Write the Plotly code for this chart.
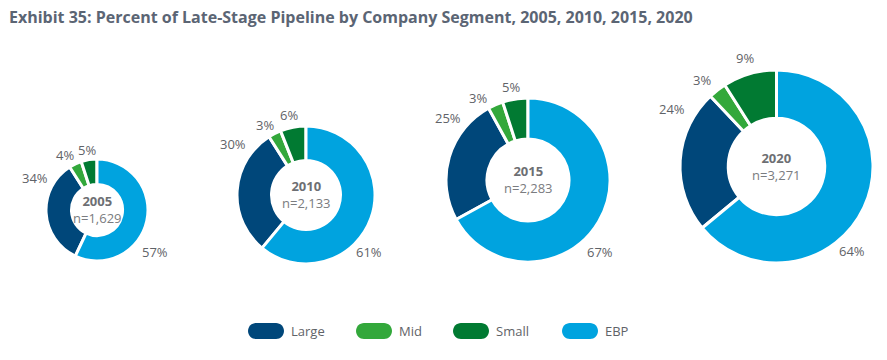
import plotly.graph_objects as go

W, H = 887, 360

# ---------------- data ----------------
segments = ["Large", "Mid", "Small", "EBP"]
years = ["2005", "2010", "2015", "2020"]
counts = ["1,629", "2,133", "2,283", "3,271"]
large = [34, 30, 25, 24]
mid = [4, 3, 3, 3]
small = [5, 6, 5, 9]
ebp = [57, 61, 67, 64]

# ---------------- style / layout ----------------
colors = ["#00477a", "#33a83b", "#017a32", "#00a3df"]
centers = [(97, 210), (306, 195), (528, 180), (776.5, 166.5)]   # px
radii = [51, 69, 82, 96.5]                                        # px
hole = 0.5
# percent label positions (px) for Large, Mid, Small, EBP of each donut
label_xy = [
    [(35, 178), (65, 155), (87, 150), (155, 252)],
    [(233, 144), (265, 125), (289, 115), (369, 252)],
    [(448, 118), (478, 98), (511, 87), (600, 252)],
    [(672, 109), (702, 80), (745, 58), (852, 251)],
]
legend_pill_x = [248, 356, 453, 562]   # px, left edge of each legend pill
legend_y = 331
pill_w, pill_h = 36, 16

TXT = "#5f6368"
FONT = "Open Sans"


def px(x):
    return x / W


def py(y):
    return 1 - y / H


fig = go.Figure()
annotations = []
shapes = []

for i, yr in enumerate(years):
    vals = [large[i], mid[i], small[i], ebp[i]]
    cx, cy = centers[i]
    r = radii[i]
    rot = ebp[i] * 3.6
    if rot > 180:
        rot -= 360
    fig.add_trace(go.Pie(
        labels=segments, values=vals, sort=False, direction="clockwise",
        rotation=rot, hole=hole,
        marker=dict(colors=colors, line=dict(color="white", width=3)),
        textinfo="none",
        domain=dict(x=[px(cx - r), px(cx + r)], y=[py(cy + r), py(cy - r)]),
        showlegend=False, hoverinfo="label+percent",
        name=yr,
    ))
    annotations.append(dict(
        x=px(cx), y=py(cy - 0.5), xref="paper", yref="paper", showarrow=False,
        text=f"<b>{yr}</b><br><span style='color:#7a7c80'>n={counts[i]}</span>",
        font=dict(family=FONT, size=13, color="#6d6f73"),
        xanchor="center", yanchor="middle", align="center",
    ))
    for j, v in enumerate(vals):
        lx, ly = label_xy[i][j]
        annotations.append(dict(
            x=px(lx), y=py(ly), xref="paper", yref="paper", showarrow=False,
            text=f"{v}%", font=dict(family=FONT, size=13, color=TXT),
            xanchor="center", yanchor="middle",
        ))

# title
annotations.append(dict(
    x=px(7), y=py(17), xref="paper", yref="paper", xanchor="left", yanchor="middle",
    text="<b>Exhibit 35: Percent of Late-Stage Pipeline by Company Segment, 2005, 2010, 2015, 2020</b>",
    showarrow=False, font=dict(family=FONT, size=16, color="#5b6574"),
))

# legend (pill markers + text)
k = 0.5523
for j, seg in enumerate(segments):
    x0 = legend_pill_x[j]
    x1 = x0 + pill_w
    y0 = legend_y - pill_h / 2
    y1 = legend_y + pill_h / 2
    rr = pill_h / 2
    pts = [
        ("M", [(x0 + rr, y0)]),
        ("L", [(x1 - rr, y0)]),
        ("C", [(x1 - rr + k * rr, y0), (x1, legend_y - k * rr), (x1, legend_y)]),
        ("C", [(x1, legend_y + k * rr), (x1 - rr + k * rr, y1), (x1 - rr, y1)]),
        ("L", [(x0 + rr, y1)]),
        ("C", [(x0 + rr - k * rr, y1), (x0, legend_y + k * rr), (x0, legend_y)]),
        ("C", [(x0, legend_y - k * rr), (x0 + rr - k * rr, y0), (x0 + rr, y0)]),
    ]
    path = " ".join(cmd + " " + " ".join(f"{px(a):.5f},{py(b):.5f}" for a, b in p) for cmd, p in pts) + " Z"
    shapes.append(dict(type="path", path=path, xref="paper", yref="paper",
                       fillcolor=colors[j], line=dict(width=0)))
    annotations.append(dict(
        x=px(x1 + 5), y=py(legend_y), xref="paper", yref="paper", xanchor="left", yanchor="middle",
        text=seg, showarrow=False, font=dict(family=FONT, size=13, color=TXT),
    ))

fig.update_layout(
    width=W, height=H, margin=dict(l=0, r=0, t=0, b=0),
    paper_bgcolor="white", plot_bgcolor="white",
    annotations=annotations, shapes=shapes, showlegend=False,
)

fig.write_html("out.html", config={"displayModeBar": False},
               post_script="document.body.style.margin='0';")
